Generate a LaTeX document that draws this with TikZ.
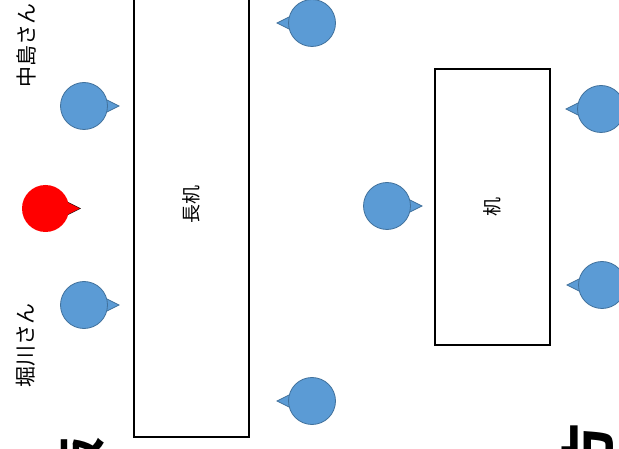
\documentclass[tikz,border=0pt]{standalone}
\usepackage{fontspec}
\setmainfont{Noto Sans CJK JP}
\usetikzlibrary{positioning, calc, backgrounds}
\definecolor{cSEAT}{HTML}{5B9BD5}
\definecolor{cSEATline}{HTML}{41719C}
\definecolor{cME}{HTML}{FF0000}
\tikzset{
  seatblue/.style={
    circle, inner sep=0pt,
    minimum size=47pt,
    fill=cSEAT, draw=cSEATline, line width=0.8pt
  },
  seatred/.style={
    circle, inner sep=0pt,
    minimum size=47pt,
    fill=cME
  },
  noseblue/.style={fill=cSEAT, draw=cSEATline, line width=0.8pt},
  nosered/.style={fill=cME},
  desk/.style={
    draw=black, line width=1.5pt,
    rectangle, inner sep=0pt,
    rotate=90,
    font=\fontsize{19pt}{22pt}\selectfont
  },
  namelabel/.style={
    rotate=90, inner sep=0pt,
    font=\fontsize{21pt}{25pt}\selectfont
  },
  biglabel/.style={
    rotate=90, inner sep=0pt, anchor=east,
    font=\fontsize{#1}{#1}\selectfont\bfseries
  }
}
% #1 name, #2 position, #3 facing (1 right, -1 left), #4 colour
\newcommand{\seatnode}[4]{%
  \node[seat#4] (#1) at (#2) {};
  \begin{scope}[on background layer]
    \filldraw[nose#4] ($(#1)+(#3*20,-7.5)$) -- ($(#1)+(#3*35,0)$)
      -- ($(#1)+(#3*20,7.5)$) -- cycle;
  \end{scope}
}

\begin{document}
\begin{tikzpicture}[x=1pt, y=-1pt]
  \clip (0,0) rectangle (619,449);
  \useasboundingbox (0,0) rectangle (619,449);

  % desks
  \node[desk, minimum width=464pt, minimum height=115pt] (longdesk) at (191.5,205) {長机};
  \node[desk, minimum width=276pt, minimum height=115pt] (desk) at (492.5,207) {机};

  % seats
  \seatnode{nakajima}{84,106}{1}{blue}
  \seatnode{me}{45.5,208.5}{1}{red}
  \seatnode{horikawa}{84,305}{1}{blue}
  \seatnode{oppTop}{312,23}{-1}{blue}
  \seatnode{oppBottom}{312,401}{-1}{blue}
  \seatnode{middle}{387,206}{1}{blue}
  \seatnode{rightTop}{601,109}{-1}{blue}
  \seatnode{rightBottom}{602,285}{-1}{blue}

  % names
  \node[namelabel] (nakajimaName) at (26,46) {中島さん};
  \node[namelabel] (horikawaName) at (26,345) {堀川さん};

  % edge labels
  \node[biglabel=48pt] (board) at (81,437) {黒板};
  \node[biglabel=54pt] (back) at (588,423) {後方};
\end{tikzpicture}
\end{document}
